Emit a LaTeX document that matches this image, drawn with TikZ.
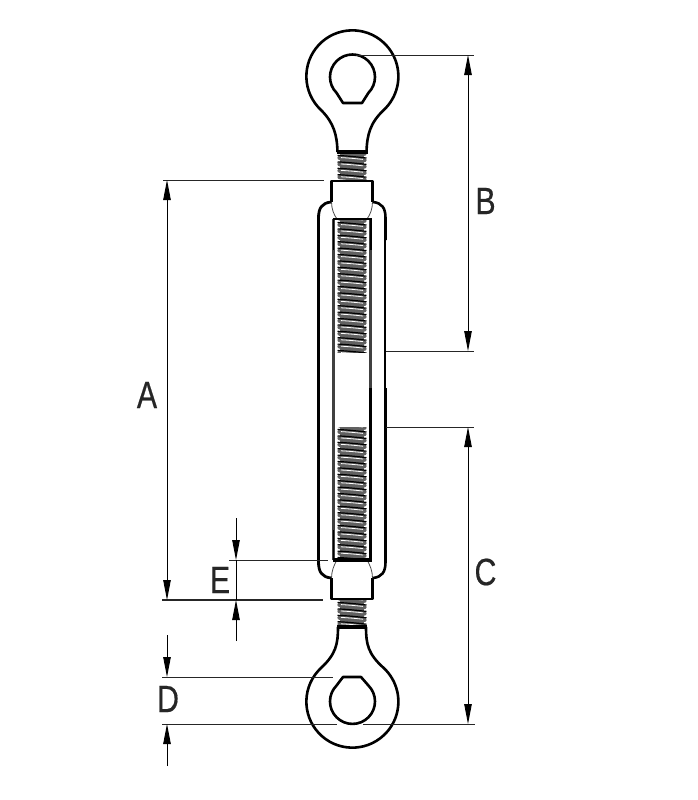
\documentclass[tikz,border=0pt]{standalone}
\usepackage{fontspec}
\setmainfont{Liberation Sans}
\newfontfamily\labfont[FakeBold=0.5]{Liberation Sans}
\usetikzlibrary{arrows.meta}
\tikzset{
  part/.style={line width=2.6pt,line join=round},
  thickpart/.style={line width=3.4pt,line join=miter},
  medpart/.style={line width=2.2pt},
  hairpart/.style={line width=0.8pt,black!70},
  ext/.style={line width=0.9pt,black!85},
  extthick/.style={line width=1.8pt,black!85},
  dim/.style={line width=0.9pt,black},
  arr/.style={dim,-{Triangle[length=20pt,width=7.5pt]}},
  arrboth/.style={dim,{Triangle[length=20pt,width=7.5pt]}-{Triangle[length=20pt,width=7.5pt]}},
  lab/.style={text=black!85,inner sep=0pt}
}
\newcommand{\lettermark}[1]{\scalebox{.8}[1]{\labfont\fontsize{38}{38}\selectfont #1}}
\newcommand{\threadband}[2]{%
  \begin{scope}
  \clip (330,#1) rectangle (374,#2);
  \fill[black!62] (340,#1) rectangle (364,#2);
  \pgfmathsetmacro{\yfirst}{#1-3}
  \pgfmathsetmacro{\ysecond}{#1+3.4}
  \foreach \yy in {\yfirst,\ysecond,...,#2}{
    \draw[black!62,line width=4.2pt,line cap=round] (339.5,\yy+1.5) -- (364.5,\yy+3.7);
    \draw[black,line width=1.2pt] (337.5,\yy-0.9) .. controls (346,\yy-0.6) and (358,\yy+0.6) .. (366.5,\yy+1.6);
    \draw[white,line width=0.8pt] (341,\yy+1.2) .. controls (348,\yy+1.5) and (356,\yy+2.3) .. (363,\yy+3);
  }
  \end{scope}
}
\begin{document}
\begin{tikzpicture}[x=1pt,y=-1pt]
\useasboundingbox[fill=white] (0,0) rectangle (698,800);
% threads
\threadband{153}{179}
\threadband{220}{352}
\threadband{427}{560}
\threadband{600}{627}
% top eye
\draw[part] (337.5,152) .. controls (337,135) and (334,123) .. (321,110)
  arc[start angle=133,end angle=407,radius=46]
  .. controls (370,123) and (367,135) .. (366.5,152);
\draw[thickpart] (336.5,152) -- (367.5,152);
\draw[part] (343,103) -- (362,103) -- (368.4,92.9)
  arc[start angle=45,end angle=-225,radius=22.5] -- cycle;
% bottom eye
\draw[part] (338,627) .. controls (338,644) and (336,654) .. (321,668)
  arc[start angle=-133,end angle=-407,radius=46]
  .. controls (368,654) and (366,644) .. (366,627);
\draw[thickpart] (337,627) -- (367,627);
\draw[part] (343,677) -- (361,677) -- (368.4,685.5)
  arc[start angle=-45,end angle=225,radius=22.5] -- cycle;
% upper collar
\draw[part] (331.5,202) -- (331.5,181) -- (372.5,181) -- (372.5,202);
\draw[hairpart] (331.5,202) .. controls (331.5,209) and (334,215) .. (337,219);
\draw[hairpart] (372.5,202) .. controls (372.5,209) and (370,215) .. (367,219);
% lower collar
\draw[part] (331.5,578) -- (331.5,599) -- (372.5,599) -- (372.5,578);
\draw[hairpart] (331.5,578) .. controls (331.5,571) and (334,565) .. (337,560);
\draw[hairpart] (372.5,578) .. controls (372.5,571) and (370,565) .. (367,560);
% frame outer
\draw[line width=2.8pt] (331,202) .. controls (322,203) and (318.5,208) .. (318.5,218) -- (318.5,562)
  .. controls (318.5,572) and (322,577) .. (331,578);
\draw[part] (373,202) .. controls (382,203) and (385.5,208) .. (385.5,218) -- (385.5,240);
\draw[line width=1.9pt] (385.3,240) -- (385.3,388);
\draw[thickpart] (385.5,388) -- (385.5,562);
\draw[part] (385.5,562) .. controls (385.5,572) and (382,577) .. (373,578);
% inner box
\draw[medpart,black!75] (333.5,219) -- (333.5,560);
\draw[medpart,black!75] (370.5,219) -- (370.5,388);
\draw[thickpart] (370.5,388) -- (370.5,561.5);
\draw[thickpart] (332.5,560) -- (372,560);
\draw[part] (332.5,219) -- (371.5,219);
\draw[part,line width=1.6pt] (333.3,219) -- (333.3,250);
\draw[part,line width=1.6pt] (370.7,219) -- (370.7,250);
\draw[part,line width=1.6pt] (333.3,530) -- (333.3,560);
% extension anchors
\coordinate (Atop) at (167,180);
\coordinate (Abot) at (167,600);
\coordinate (AtopL) at (163,180);
\coordinate (AtopR) at (324,180);
\coordinate (AbotL) at (162,600);
\coordinate (AbotR) at (323,600);
\coordinate (Btop) at (468,55);
\coordinate (Bbot) at (468,351);
\coordinate (BtopL) at (356,55);
\coordinate (BtopR) at (474,55);
\coordinate (BbotL) at (386,351);
\coordinate (BbotR) at (474,351);
\coordinate (Ctop) at (468,427);
\coordinate (Cbot) at (468,724);
\coordinate (CtopL) at (386,427);
\coordinate (CtopR) at (474,427);
\coordinate (CbotL) at (363,724);
\coordinate (CbotR) at (475,724);
\coordinate (DtopL) at (162,677);
\coordinate (DtopR) at (333,677);
\coordinate (DbotL) at (162,724);
\coordinate (DbotR) at (337,724);
\coordinate (Dt0) at (167,635);
\coordinate (Dt1) at (167,677);
\coordinate (Db0) at (167,766);
\coordinate (Db1) at (167,724);
\coordinate (EtopL) at (229,560);
\coordinate (EtopR) at (328,560);
\coordinate (Et0) at (236,518);
\coordinate (Et1) at (236,560);
\coordinate (Eb0) at (236,641);
\coordinate (Eb1) at (236,600);
% extension lines
\draw[ext] (AtopL) -- (AtopR);
\draw[extthick] (AbotL) -- (AbotR);
\draw[ext] (BtopL) -- (BtopR);
\draw[ext] (BbotL) -- (BbotR);
\draw[ext] (CtopL) -- (CtopR);
\draw[ext] (CbotL) -- (CbotR);
\draw[ext] (DtopL) -- (DtopR);
\draw[ext] (DbotL) -- (DbotR);
\draw[ext] (EtopL) -- (EtopR);
% dimension lines
\draw[arrboth] (Atop) -- (Abot);
\draw[arrboth] (Btop) -- (Bbot);
\draw[arrboth] (Ctop) -- (Cbot);
\draw[arr] (Dt0) -- (Dt1);
\draw[arr] (Db0) -- (Db1);
\draw[arr] (Et0) -- (Et1);
\draw[arr] (Eb0) -- (Eb1);
\draw[dim] (Et1) -- (Eb1);
% labels
\node[lab] (labA) at (147,395) {\lettermark{A}};
\node[lab] (labB) at (485.5,201) {\lettermark{B}};
\node[lab] (labC) at (485.5,572) {\lettermark{C}};
\node[lab] (labD) at (168,699) {\lettermark{D}};
\node[lab] (labE) at (220,580) {\lettermark{E}};
\end{tikzpicture}
\end{document}
